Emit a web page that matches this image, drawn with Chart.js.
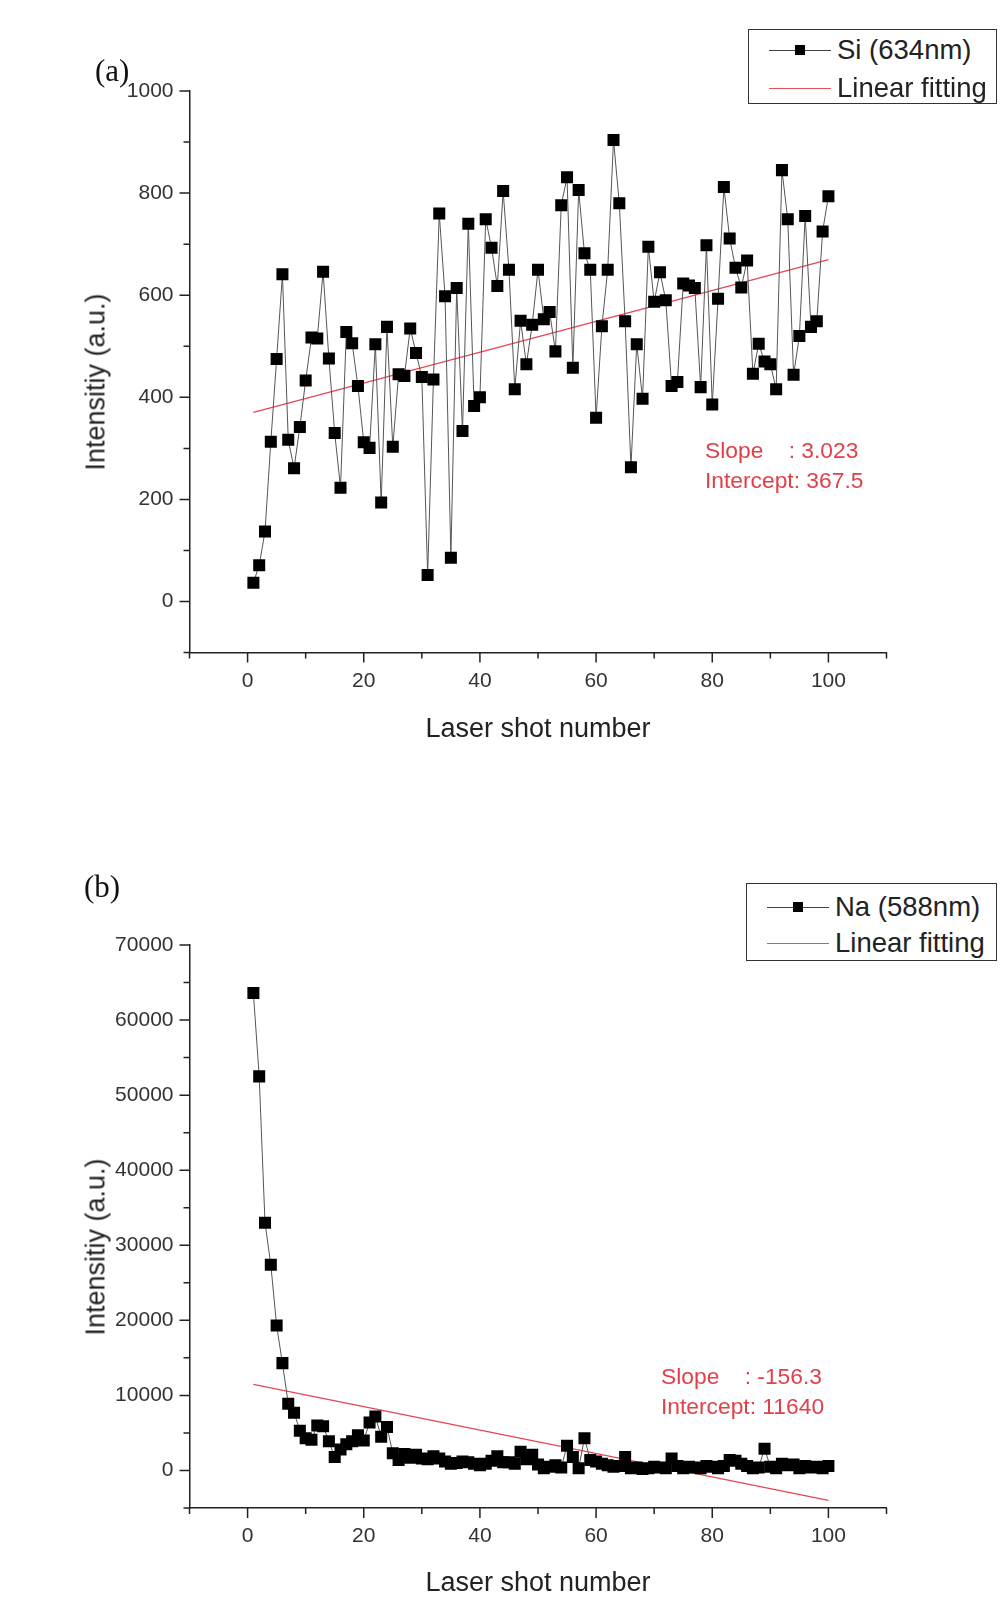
<!DOCTYPE html>
<html>
<head>
<meta charset="utf-8">
<script src="https://cdn.jsdelivr.net/npm/chart.js@4.4.0/dist/chart.umd.min.js"></script>
<style>
  html, body { margin: 0; padding: 0; background: #fff; }
  body { width: 1007px; height: 1620px; position: relative; overflow: hidden;
         font-family: "Liberation Sans", Arial, sans-serif; color: #222; }
  canvas { position: absolute; left: 0; }
  #siChart { top: 0; }
  #naChart { top: 810px; }
  .panel { position: absolute; font-family: "Liberation Serif", "Times New Roman", serif;
           font-size: 31px; color: #111; line-height: 1; }
  .ytitle { position: absolute; font-size: 27px; white-space: nowrap; line-height: 1;
            transform: translate(-50%, -50%) rotate(-90deg); }
  .xtitle { position: absolute; font-size: 27px; white-space: nowrap; line-height: 1;
            transform: translate(-50%, -50%); }
  .fit-note { position: absolute; font-size: 22.8px; color: #e0404a; white-space: pre; line-height: 30px; }
  .legend { position: absolute; border: 1px solid #333; background: #fff; box-sizing: border-box; }
  .legend .row { position: absolute; left: 0; height: 36px; display: flex; align-items: center;
                 font-size: 27.5px; white-space: nowrap; }
  .sym { position: relative; width: 62px; height: 1px; margin-left: 20px; margin-right: 6px; }
  .sym.data { background: #444; }
  .sym.data::after { content: ""; position: absolute; left: 26px; top: -5px; width: 10px; height: 10px; background: #000; }
  .sym.fit { background: rgb(230, 80, 90); }
</style>
</head>
<body>
<canvas id="siChart" width="1007" height="800"></canvas>
<canvas id="naChart" width="1007" height="810"></canvas>

<div class="panel" style="left:95px; top:55px;">(a)</div>
<div class="panel" style="left:84px; top:871px;">(b)</div>

<div class="legend" style="left:748px; top:29px; width:249px; height:75px;">
  <div class="row" style="top:2px;"><span class="sym data"></span>Si (634nm)</div>
  <div class="row" style="top:40px;"><span class="sym fit"></span>Linear fitting</div>
</div>
<div class="legend" style="left:746px; top:883px; width:251px; height:78px;">
  <div class="row" style="top:5px;"><span class="sym data"></span>Na (588nm)</div>
  <div class="row" style="top:41px;"><span class="sym fit"></span>Linear fitting</div>
</div>

<div class="ytitle" style="left:96px; top:382px;">Intensitiy (a.u.)</div>
<div class="ytitle" style="left:96px; top:1247px;">Intensitiy (a.u.)</div>
<div class="xtitle" style="left:538px; top:728px;">Laser shot number</div>
<div class="xtitle" style="left:538px; top:1582px;">Laser shot number</div>

<div class="fit-note" style="left:705px; top:435px;">Slope    : 3.023
Intercept: 367.5</div>
<div class="fit-note" style="left:661px; top:1361px;">Slope    : -156.3
Intercept: 11640</div>

<script>
// Laser shot numbers (x values)
const shots = [1, 2, 3, 4, 5, 6, 7, 8, 9, 10, 11, 12, 13, 14, 15, 16, 17, 18, 19, 20,
  21, 22, 23, 24, 25, 26, 27, 28, 29, 30, 31, 32, 33, 34, 35, 36, 37, 38, 39, 40,
  41, 42, 43, 44, 45, 46, 47, 48, 49, 50, 51, 52, 53, 54, 55, 56, 57, 58, 59, 60,
  61, 62, 63, 64, 65, 66, 67, 68, 69, 70, 71, 72, 73, 74, 75, 76, 77, 78, 79, 80,
  81, 82, 83, 84, 85, 86, 87, 88, 89, 90, 91, 92, 93, 94, 95, 96, 97, 98, 99, 100];

// Si (634nm) intensity
const siValues = [37, 71, 137, 313, 475, 641, 317, 261, 342, 433,
  517, 515, 646, 476, 330, 223, 528, 506, 422, 312,
  301, 504, 194, 538, 303, 445, 442, 535, 487, 440,
  52, 435, 760, 598, 86, 614, 334, 740, 383, 400,
  749, 693, 618, 804, 650, 416, 550, 465, 542, 650,
  553, 567, 490, 776, 831, 458, 806, 682, 650, 360,
  539, 650, 904, 780, 549, 263, 504, 397, 695, 587,
  645, 590, 422, 430, 623, 619, 614, 420, 698, 386,
  593, 812, 711, 654, 615, 668, 446, 505, 470, 465,
  416, 845, 749, 444, 520, 755, 538, 549, 725, 794];

// Na (588nm) intensity
const naValues = [63600, 52500, 33000, 27400, 19300, 14300, 8900, 7700, 5300, 4300,
  4100, 6000, 5900, 3900, 1800, 2800, 3500, 3900, 4700, 4000,
  6400, 7200, 4500, 5800, 2300, 1400, 2200, 1700, 2100, 1600,
  1500, 1900, 1600, 1200, 900, 1000, 1200, 1100, 900, 700,
  900, 1300, 1900, 1100, 1100, 900, 2500, 1500, 2100, 800,
  300, 500, 700, 400, 3300, 1800, 300, 4300, 1400, 1200,
  900, 700, 500, 600, 1800, 300, 400, 200, 300, 500,
  400, 300, 1600, 600, 300, 500, 400, 300, 600, 500,
  300, 600, 1400, 1300, 900, 600, 300, 400, 2900, 500,
  300, 900, 700, 800, 300, 600, 400, 500, 300, 600];

// Linear fit end points (shot 1 and shot 100)
const fitShots = [1, 100];
const siFit = [370.5, 669.8];
const naFit = [11480, -3990];

Chart.defaults.font.family = '"Liberation Sans", Arial, sans-serif';
Chart.defaults.color = '#222';

// Draw major / minor tick marks outside the axes
const tickMarks = {
  id: 'tickMarks',
  afterDraw(chart) {
    const { ctx, scales: { x, y } } = chart;
    ctx.save();
    ctx.strokeStyle = '#222';
    ctx.lineWidth = 1.5;
    ctx.beginPath();
    x.ticks.forEach(t => {
      const px = x.getPixelForValue(t.value);
      const len = t.label ? 10 : 6;
      ctx.moveTo(px, x.top);
      ctx.lineTo(px, x.top + len);
    });
    y.ticks.forEach(t => {
      const py = y.getPixelForValue(t.value);
      const len = t.label ? 10 : 6;
      ctx.moveTo(y.right, py);
      ctx.lineTo(y.right - len, py);
    });
    ctx.stroke();
    ctx.restore();
  }
};

function toPoints(xs, ys) {
  return xs.map((v, i) => ({ x: v, y: ys[i] }));
}

function makeChart(id, values, fit, yMin, yMax, yStep, yMajor, topPad, xAxisHeight) {
  const ctx = document.getElementById(id).getContext('2d');
  return new Chart(ctx, {
    type: 'scatter',
    data: {
      datasets: [{
        data: toPoints(shots, values),
        showLine: true,
        borderColor: '#555',
        borderWidth: 1,
        pointStyle: 'rect',
        pointRadius: 8.5,
        pointBackgroundColor: '#000',
        pointBorderWidth: 0
      }, {
        data: toPoints(fitShots, fit),
        showLine: true,
        borderColor: 'rgb(230, 70, 80)',
        borderWidth: 1.2,
        pointRadius: 0
      }]
    },
    options: {
      responsive: false,
      animation: false,
      layout: { padding: { left: 0, top: topPad, right: 120.5, bottom: 0 } },
      plugins: { legend: { display: false }, tooltip: { enabled: false } },
      scales: {
        x: {
          type: 'linear',
          min: -10,
          max: 110,
          afterFit: s => { s.height = xAxisHeight; },
          border: { display: true, color: '#222', width: 1.5 },
          grid: { display: false, drawTicks: true, tickLength: 10 },
          ticks: {
            stepSize: 10,
            autoSkip: false,
            maxRotation: 0,
            padding: 6,
            color: '#333',
            font: { size: 21 },
            callback: v => (v >= 0 && v <= 100 && v % 20 === 0) ? String(v) : ''
          }
        },
        y: {
          type: 'linear',
          min: yMin,
          max: yMax,
          afterFit: s => { s.width = 189.5; },
          border: { display: true, color: '#222', width: 1.5 },
          grid: { display: false, drawTicks: true, tickLength: 10 },
          ticks: {
            stepSize: yStep,
            autoSkip: false,
            padding: 6,
            color: '#333',
            font: { size: 21 },
            callback: v => (v >= 0 && v % yMajor === 0) ? String(v) : ''
          }
        }
      }
    },
    plugins: [tickMarks]
  });
}

makeChart('siChart', siValues, siFit, -100, 1000, 100, 200, 91, 147.4);
makeChart('naChart', naValues, naFit, -5000, 70000, 5000, 10000, 135, 112);
</script>
</body>
</html>
